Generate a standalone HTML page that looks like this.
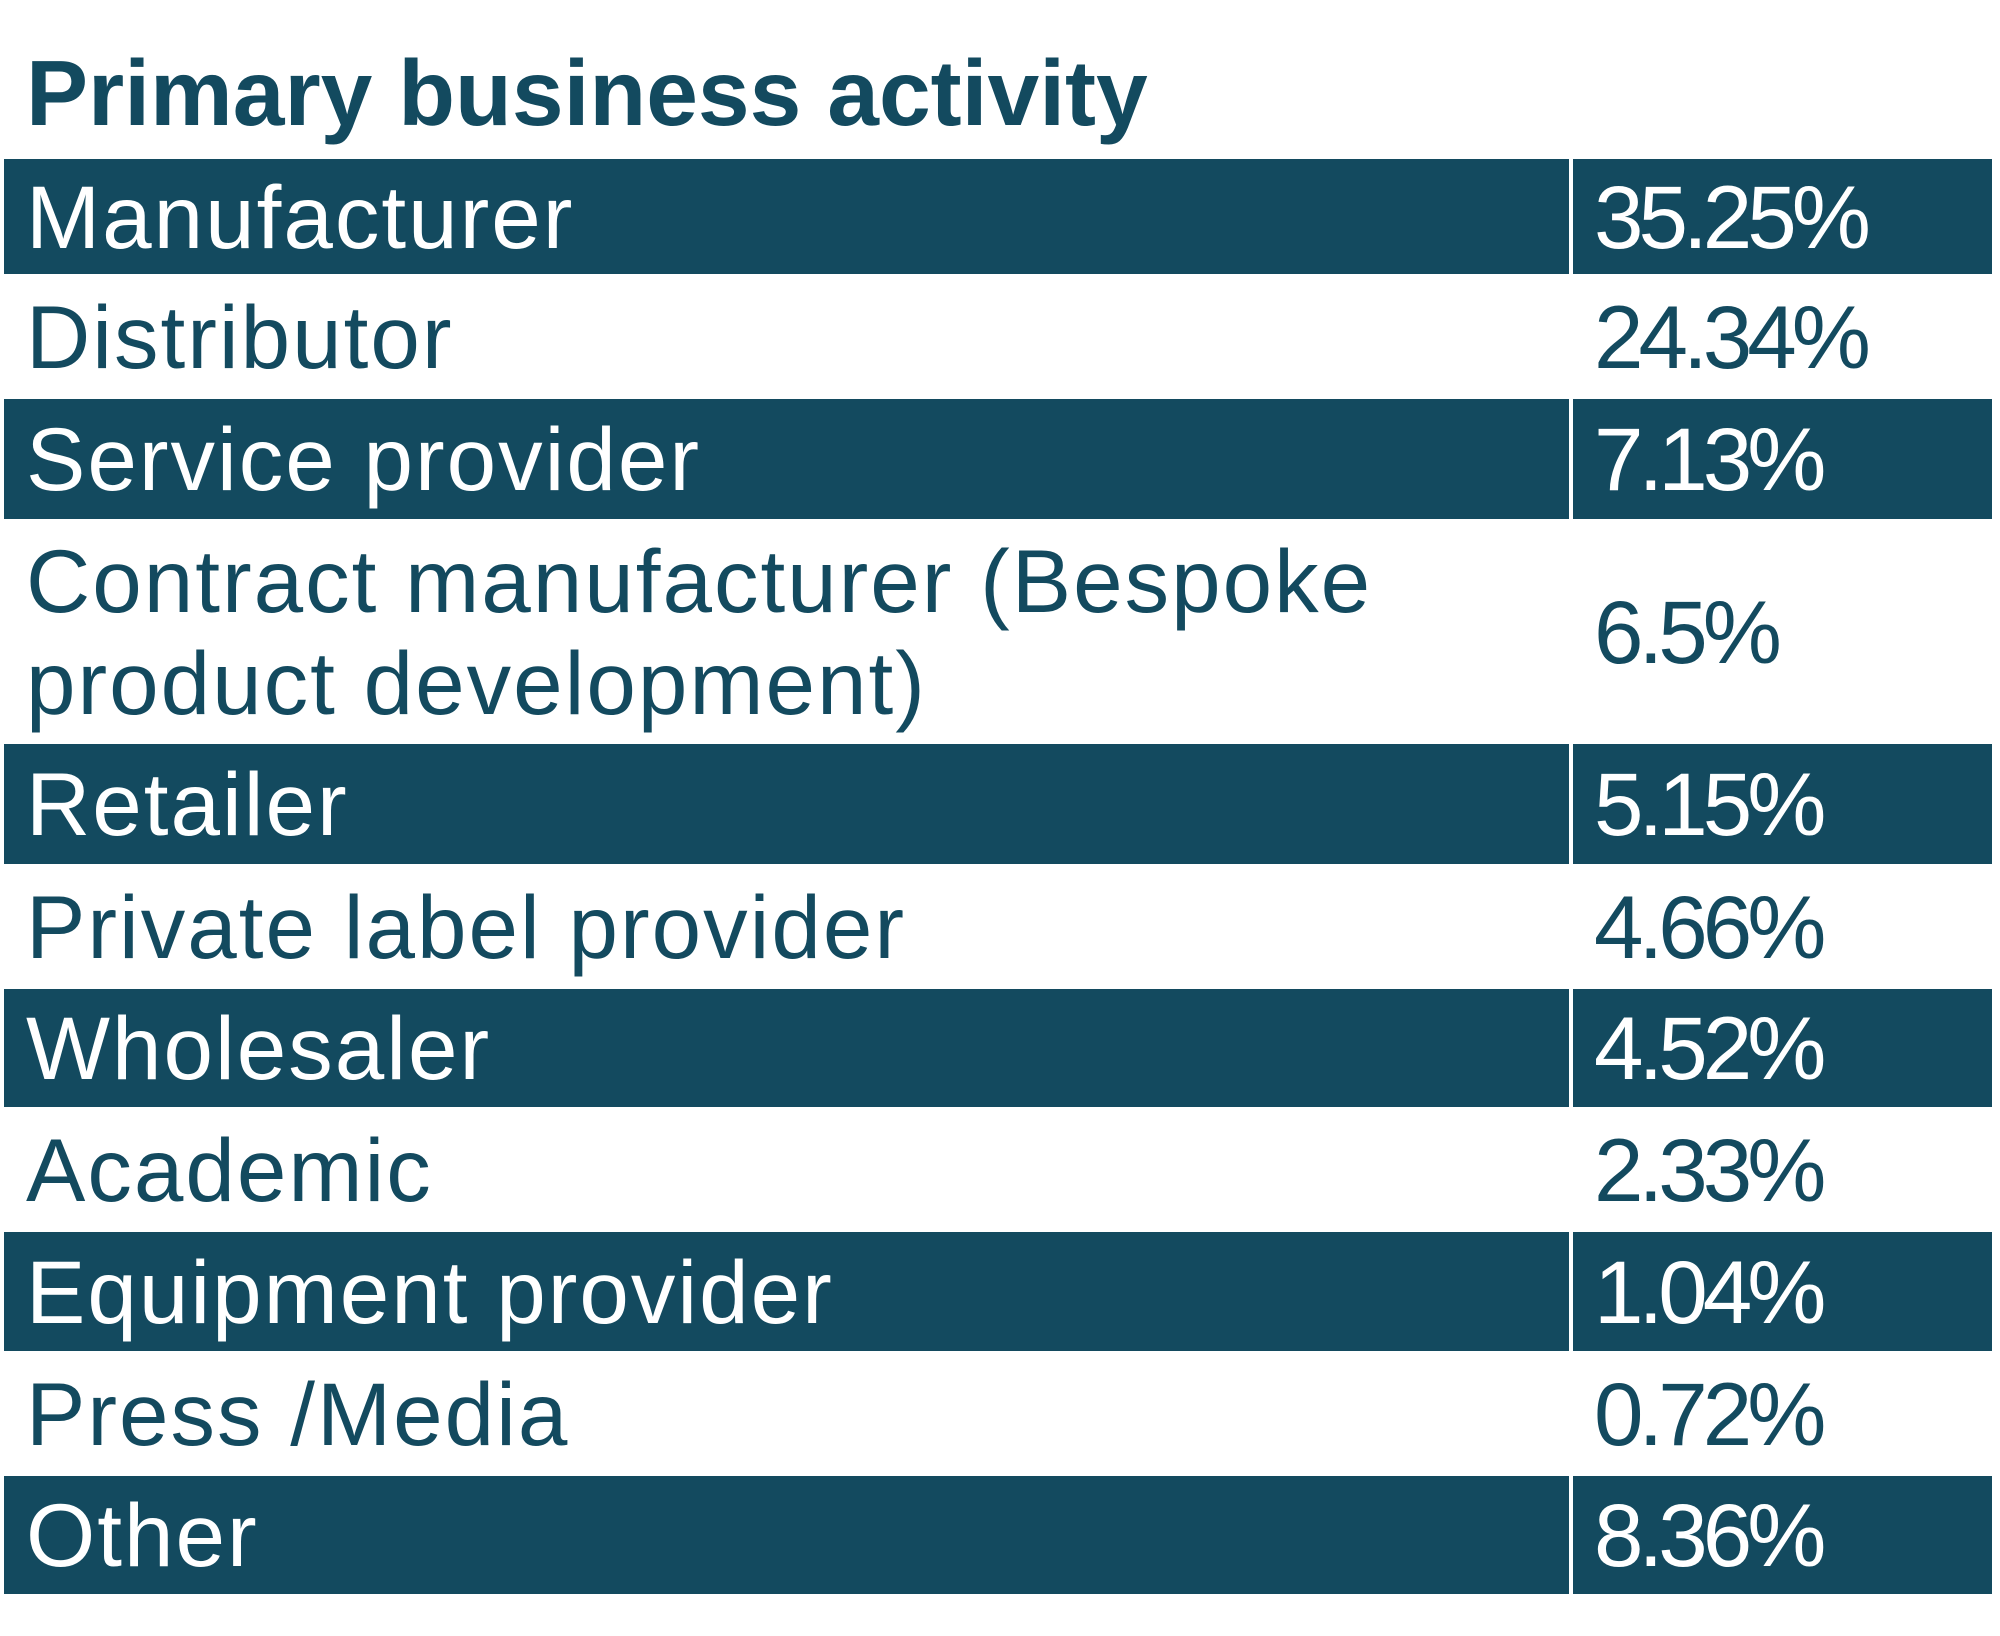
<!DOCTYPE html>
<html><head><meta charset="utf-8"><style>
body{margin:0;width:2000px;height:1636px;background:#fff;position:relative;overflow:hidden;font-family:"Liberation Sans",sans-serif;color:#134a5f}
.t{position:absolute;left:26px;top:38px;font-size:93px;font-weight:bold;line-height:110px}
.r{position:absolute;left:4px;width:1988px;}
.d .a,.d .b{background:#134a5f;color:#fff}
.a,.b{position:absolute;top:0;bottom:0;display:flex;align-items:center;font-size:89px;line-height:102px}
.a{left:0;width:1565px;padding-left:22px;box-sizing:border-box;letter-spacing:2px}
.b{left:1569px;right:0;padding-left:21px;letter-spacing:-5px}
</style></head><body>
<div class="t">Primary business activity</div>
<div class="r d" style="top:159px;height:115px"><div class="a">Manufacturer</div><div class="b">35.25%</div></div>
<div class="r" style="top:274px;height:125px"><div class="a">Distributor</div><div class="b">24.34%</div></div>
<div class="r d" style="top:399px;height:120px"><div class="a">Service provider</div><div class="b">7.13%</div></div>
<div class="r" style="top:519px;height:225px"><div class="a">Contract manufacturer (Bespoke<br>product development)</div><div class="b">6.5%</div></div>
<div class="r d" style="top:744px;height:120px"><div class="a">Retailer</div><div class="b">5.15%</div></div>
<div class="r" style="top:864px;height:125px"><div class="a">Private label provider</div><div class="b">4.66%</div></div>
<div class="r d" style="top:989px;height:118px"><div class="a">Wholesaler</div><div class="b">4.52%</div></div>
<div class="r" style="top:1107px;height:125px"><div class="a">Academic</div><div class="b">2.33%</div></div>
<div class="r d" style="top:1232px;height:119px"><div class="a">Equipment provider</div><div class="b">1.04%</div></div>
<div class="r" style="top:1351px;height:125px"><div class="a">Press /Media</div><div class="b">0.72%</div></div>
<div class="r d" style="top:1476px;height:118px"><div class="a">Other</div><div class="b">8.36%</div></div>
</body></html>
